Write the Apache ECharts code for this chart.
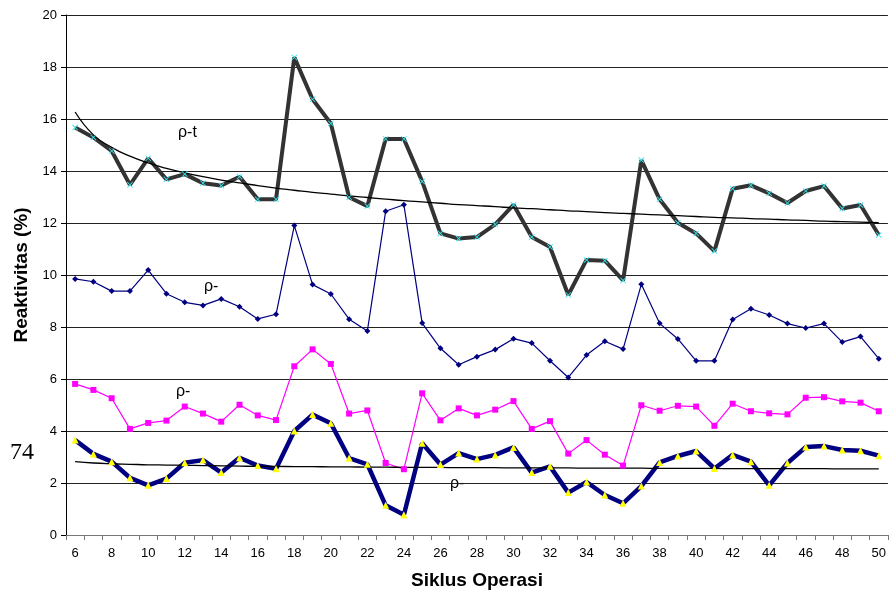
<!DOCTYPE html>
<html>
<head>
<meta charset="utf-8">
<script src="https://cdn.jsdelivr.net/npm/echarts@6/dist/echarts.min.js"></script>
<style>
  html, body { margin: 0; padding: 0; background: #fff; }
  #chart { width: 889px; height: 596px; }
</style>
</head>
<body>
<div id="chart"></div>
<script>
// siklus 6..50
const cycles = ['6','7','8','9','10','11','12','13','14','15','16','17','18','19','20','21','22','23','24','25','26','27','28','29','30','31','32','33','34','35','36','37','38','39','40','41','42','43','44','45','46','47','48','49','50'];

const rhoT = [15.67,15.29,14.77,13.47,14.49,13.68,13.88,13.53,13.44,13.78,12.91,12.91,18.37,16.76,15.83,
  12.99,12.65,15.23,15.23,13.6,11.6,11.4,11.46,11.95,12.7,11.46,11.08,9.23,10.58,10.55,
  9.79,14.42,12.91,12.01,11.6,10.92,13.32,13.45,13.14,12.77,13.23,13.42,12.56,12.69,11.54];

const rhoA = [9.85,9.74,9.38,9.38,10.19,9.28,8.95,8.83,9.08,8.78,8.31,8.49,11.9,9.63,9.27,
  8.3,7.85,12.45,12.7,8.15,7.18,6.55,6.86,7.13,7.55,7.38,6.7,6.06,6.92,7.45,
  7.15,9.64,8.14,7.54,6.7,6.7,8.29,8.7,8.46,8.13,7.96,8.13,7.42,7.63,6.78];

const rhoB = [5.81,5.58,5.26,4.08,4.31,4.4,4.94,4.67,4.36,5.01,4.6,4.42,6.49,7.14,6.58,
  4.67,4.79,2.77,2.53,5.45,4.41,4.87,4.6,4.82,5.15,4.08,4.38,3.13,3.65,3.09,
  2.67,4.99,4.78,4.97,4.94,4.2,5.05,4.76,4.68,4.64,5.28,5.3,5.14,5.09,4.76];

const rhoC = [3.65,3.12,2.82,2.2,1.91,2.17,2.78,2.88,2.4,2.97,2.67,2.55,4.0,4.63,4.3,
  2.96,2.72,1.14,0.78,3.53,2.71,3.15,2.92,3.08,3.37,2.4,2.64,1.63,2.04,1.54,
  1.22,1.88,2.79,3.04,3.23,2.56,3.08,2.82,1.91,2.77,3.38,3.42,3.27,3.24,3.05];

// trendlines
const trendT = [16.27,15.39,14.91,14.57,14.31,14.1,13.93,13.78,13.65,13.54,13.44,13.34,13.26,13.18,13.11,
  13.04,12.98,12.92,12.86,12.81,12.76,12.71,12.67,12.63,12.58,12.55,12.51,12.47,12.44,12.4,
  12.37,12.34,12.31,12.28,12.25,12.22,12.2,12.17,12.15,12.12,12.1,12.07,12.05,12.03,12.01];

const trendC = [2.82,2.77,2.74,2.72,2.7,2.69,2.68,2.67,2.66,2.65,2.64,2.64,2.63,2.63,2.62,
  2.62,2.61,2.61,2.6,2.6,2.6,2.59,2.59,2.59,2.58,2.58,2.58,2.58,2.57,2.57,
  2.57,2.57,2.56,2.56,2.56,2.56,2.55,2.55,2.55,2.55,2.55,2.55,2.54,2.54,2.54];

const xMark = 'path://M0,1L1,0L5,4L9,0L10,1L6,5L10,9L9,10L5,6L1,10L0,9L4,5Z';
const font = '"Liberation Sans", Arial, sans-serif';

const chart = echarts.init(document.getElementById('chart'));
chart.setOption({
    animation: false,
    backgroundColor: '#fff',
    grid: { left: 66, right: 0, top: 15, bottom: 61 },
    xAxis: {
        type: 'category',
        data: cycles,
        boundaryGap: true,
        name: 'Siklus Operasi',
        nameLocation: 'middle',
        nameGap: 36,
        nameTextStyle: { fontFamily: font, fontSize: 19, fontWeight: 'bold', color: '#000' },
        axisLine: { lineStyle: { color: '#777', width: 1 } },
        axisTick: { show: true, interval: 0, length: 5, lineStyle: { color: '#777' } },
        axisLabel: { interval: 1, fontFamily: font, fontSize: 13, color: '#000', margin: 12 }
    },
    yAxis: {
        type: 'value',
        min: 0, max: 20, interval: 2,
        name: 'Reaktivitas (%)',
        nameLocation: 'middle',
        nameGap: 34,
        nameTextStyle: { fontFamily: font, fontSize: 19, fontWeight: 'bold', color: '#000' },
        axisLine: { show: true, lineStyle: { color: '#000' } },
        axisTick: { show: true, length: 5, lineStyle: { color: '#000' } },
        axisLabel: { fontFamily: font, fontSize: 13, color: '#000', margin: 9 },
        splitLine: { lineStyle: { color: '#222', width: 1.2 } }
    },
    series: [
        {
            name: 'ρ-t', type: 'line', data: rhoT,
            lineStyle: { color: '#333', width: 4 },
            symbol: xMark, symbolSize: 6,
            itemStyle: { color: '#33e6ee' }
        },
        {
            name: 'ρ-a', type: 'line', data: rhoA,
            lineStyle: { color: '#000080', width: 1.2 },
            symbol: 'diamond', symbolSize: 6,
            itemStyle: { color: '#000080' }
        },
        {
            name: 'ρ-b', type: 'line', data: rhoB,
            lineStyle: { color: '#ff00ff', width: 1.2 },
            symbol: 'rect', symbolSize: 6,
            itemStyle: { color: '#ff00ff' }
        },
        {
            name: 'ρ-c', type: 'line', data: rhoC,
            lineStyle: { color: '#000080', width: 4.5 },
            symbol: 'triangle', symbolSize: 7,
            itemStyle: { color: '#ffff00' }
        },
        {
            name: 'trend t', type: 'line', data: trendT, smooth: true,
            symbol: 'none', lineStyle: { color: '#000', width: 1.3 }
        },
        {
            name: 'trend c', type: 'line', data: trendC, smooth: true,
            symbol: 'none', lineStyle: { color: '#000', width: 1.3 }
        }
    ],
    graphic: [
        { type: 'text', left: 178, top: 125, style: { text: 'ρ-t', font: '16px ' + font, fill: '#000' } },
        { type: 'text', left: 204, top: 279, style: { text: 'ρ-', font: '16px ' + font, fill: '#000' } },
        { type: 'text', left: 176, top: 384, style: { text: 'ρ-', font: '16px ' + font, fill: '#000' } },
        { type: 'text', left: 450, top: 476, style: { text: 'ρ-', font: '16px ' + font, fill: '#000' } },
        { type: 'text', left: 10, top: 441, style: { text: '74', font: '24px "Liberation Serif", "Times New Roman", serif', fill: '#000' } }
    ]
});
</script>
</body>
</html>
